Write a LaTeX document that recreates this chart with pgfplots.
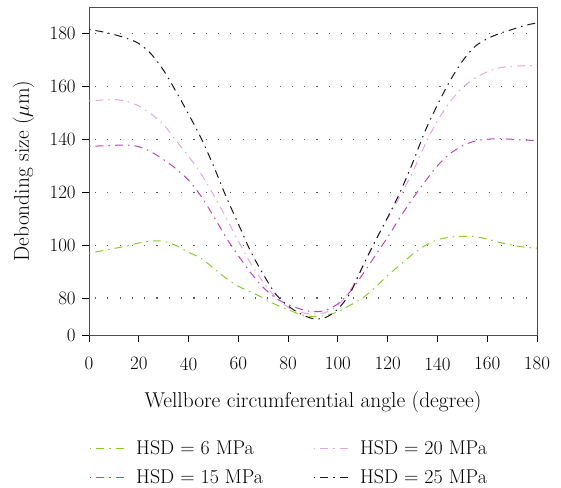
\documentclass[border=0pt]{standalone}
\usepackage{fontspec}
\usepackage{pgfplots}
\pgfplotsset{compat=1.18}
\definecolor{cgreen}{RGB}{135,205,45}
\definecolor{cpink}{RGB}{232,165,222}
\definecolor{cmag}{RGB}{185,70,185}
\definecolor{cblack}{RGB}{25,25,25}
\begin{document}
\fontsize{18.5}{22}\selectfont
\begin{tikzpicture}
\useasboundingbox (-89bp,-153bp) rectangle (472bp,335bp);
\begin{axis}[
  at={(0,0)}, anchor=south west,
  scale only axis, width=448bp, height=328bp,
  xmin=0, xmax=180, ymin=66, ymax=190,
  xtick={0,20,...,180},
  ytick={66,80,100,120,140,160,180},
  yticklabels={0,80,100,120,140,160,180},
  tick align=outside, tick pos=left,
  major tick length=7bp,
  tick style={black, line width=0.8pt},
  /pgf/number format/assume math mode=true,
  ticklabel style={font=\fontsize{19}{22}\selectfont},
  xticklabel style={yshift=-9bp},
  label style={font=\fontsize{21.5}{25}\selectfont},
  xlabel={Wellbore circumferential angle (degree)},
  ylabel={Debonding size ($\mu$m)},
  xlabel style={yshift=-9bp},
  ylabel style={yshift=-11bp},
  axis line style={line width=0.6pt, black!70},
  extra y ticks={80,100,...,180},
  extra y tick labels={},
  extra y tick style={grid=major, major grid style={black!65, line width=1.1pt, dash pattern=on 1.1bp off 11.2bp, dash phase=-6bp}, tick style={draw=none}},
  legend columns=2,
  legend style={at={(0,-0.312)}, anchor=north west, draw=none, fill=none,
    font=\fontsize{20}{24}\selectfont, inner sep=0pt, row sep=6bp,
    nodes={inner xsep=0bp, inner ysep=3bp},
    /tikz/every odd column/.append style={column sep=11bp},
    /tikz/every even column/.append style={column sep=50bp}},
  legend cell align=left,
  legend image code/.code={\draw[#1, dash phase=0bp] (0bp,0bp) -- (35bp,0bp);},
  every axis plot/.append style={line width=1pt, dash pattern=on 1.5bp off 5bp on 8bp off 5bp},
]
\addplot[cgreen, smooth] coordinates {
(0,96.9) (5,97.8) (10,98.7) (15,99.6) (20,100.8) (25,101.5) (30,101.4) (35,99.8) (40,97.3) (45,95) (50,91.3) (55,87.5) (60,84.4) (65,82.3) (70,80) (75,77.5) (80,75.6) (85,73.7) (90,73) (95,73.4) (100,74.8) (105,77.3) (110,80) (115,84) (120,88.5) (125,92.5) (130,96.5) (135,99.8) (140,102) (145,103) (150,103.3) (155,103.2) (160,102.3) (165,101) (170,100) (175,99.2) (180,98.8)};
\addlegendentry{HSD = 6 MPa}
\addplot[cpink, smooth] coordinates {
(0,154.5) (5,154.8) (10,155) (15,154.4) (20,152.6) (25,149.5) (30,145.5) (35,139.5) (40,133.5) (45,127) (50,119) (55,110.5) (60,101.5) (65,93) (70,86) (75,80.3) (80,76.5) (85,74.6) (90,74) (95,74.5) (100,77.2) (105,83) (110,92) (115,101.5) (120,110) (125,118.5) (130,127.5) (135,138) (140,147) (145,154) (150,159.5) (155,163) (160,165.5) (165,167) (170,167.6) (175,167.8) (180,167.8)};
\addlegendentry{HSD = 20 MPa}
\addplot[cmag, smooth] coordinates {
(0,137.3) (5,137.5) (10,137.7) (15,137.8) (20,137.2) (25,135.2) (30,132.3) (35,128.8) (40,124.5) (45,118.5) (50,111) (55,103) (60,96) (65,89.5) (70,84) (75,80) (80,77.5) (85,75.8) (90,74.8) (95,75.3) (100,77.8) (105,82.5) (110,89) (115,96) (120,103) (125,110.5) (130,117.5) (135,124) (140,130) (145,134.5) (150,137.5) (155,139.3) (160,140) (165,140.2) (170,140) (175,139.7) (180,139.5)};
\addlegendentry{HSD = 15 MPa}
\addplot[cblack, smooth] coordinates {
(0,181.5) (5,180.7) (10,179.6) (15,178.2) (20,176.2) (25,172.2) (30,166) (35,158) (40,149.5) (45,140.5) (50,130) (55,118.5) (60,108) (65,97.5) (70,89) (75,81.5) (80,77) (85,74) (90,72.2) (95,72.6) (100,75.8) (105,82) (110,92) (115,101.5) (120,110.5) (125,120) (130,131) (135,143) (140,153) (145,162) (150,169.5) (155,175) (160,178) (165,180) (170,181.5) (175,183) (180,184)};
\addlegendentry{HSD = 25 MPa}
\end{axis}
\end{tikzpicture}
\end{document}
